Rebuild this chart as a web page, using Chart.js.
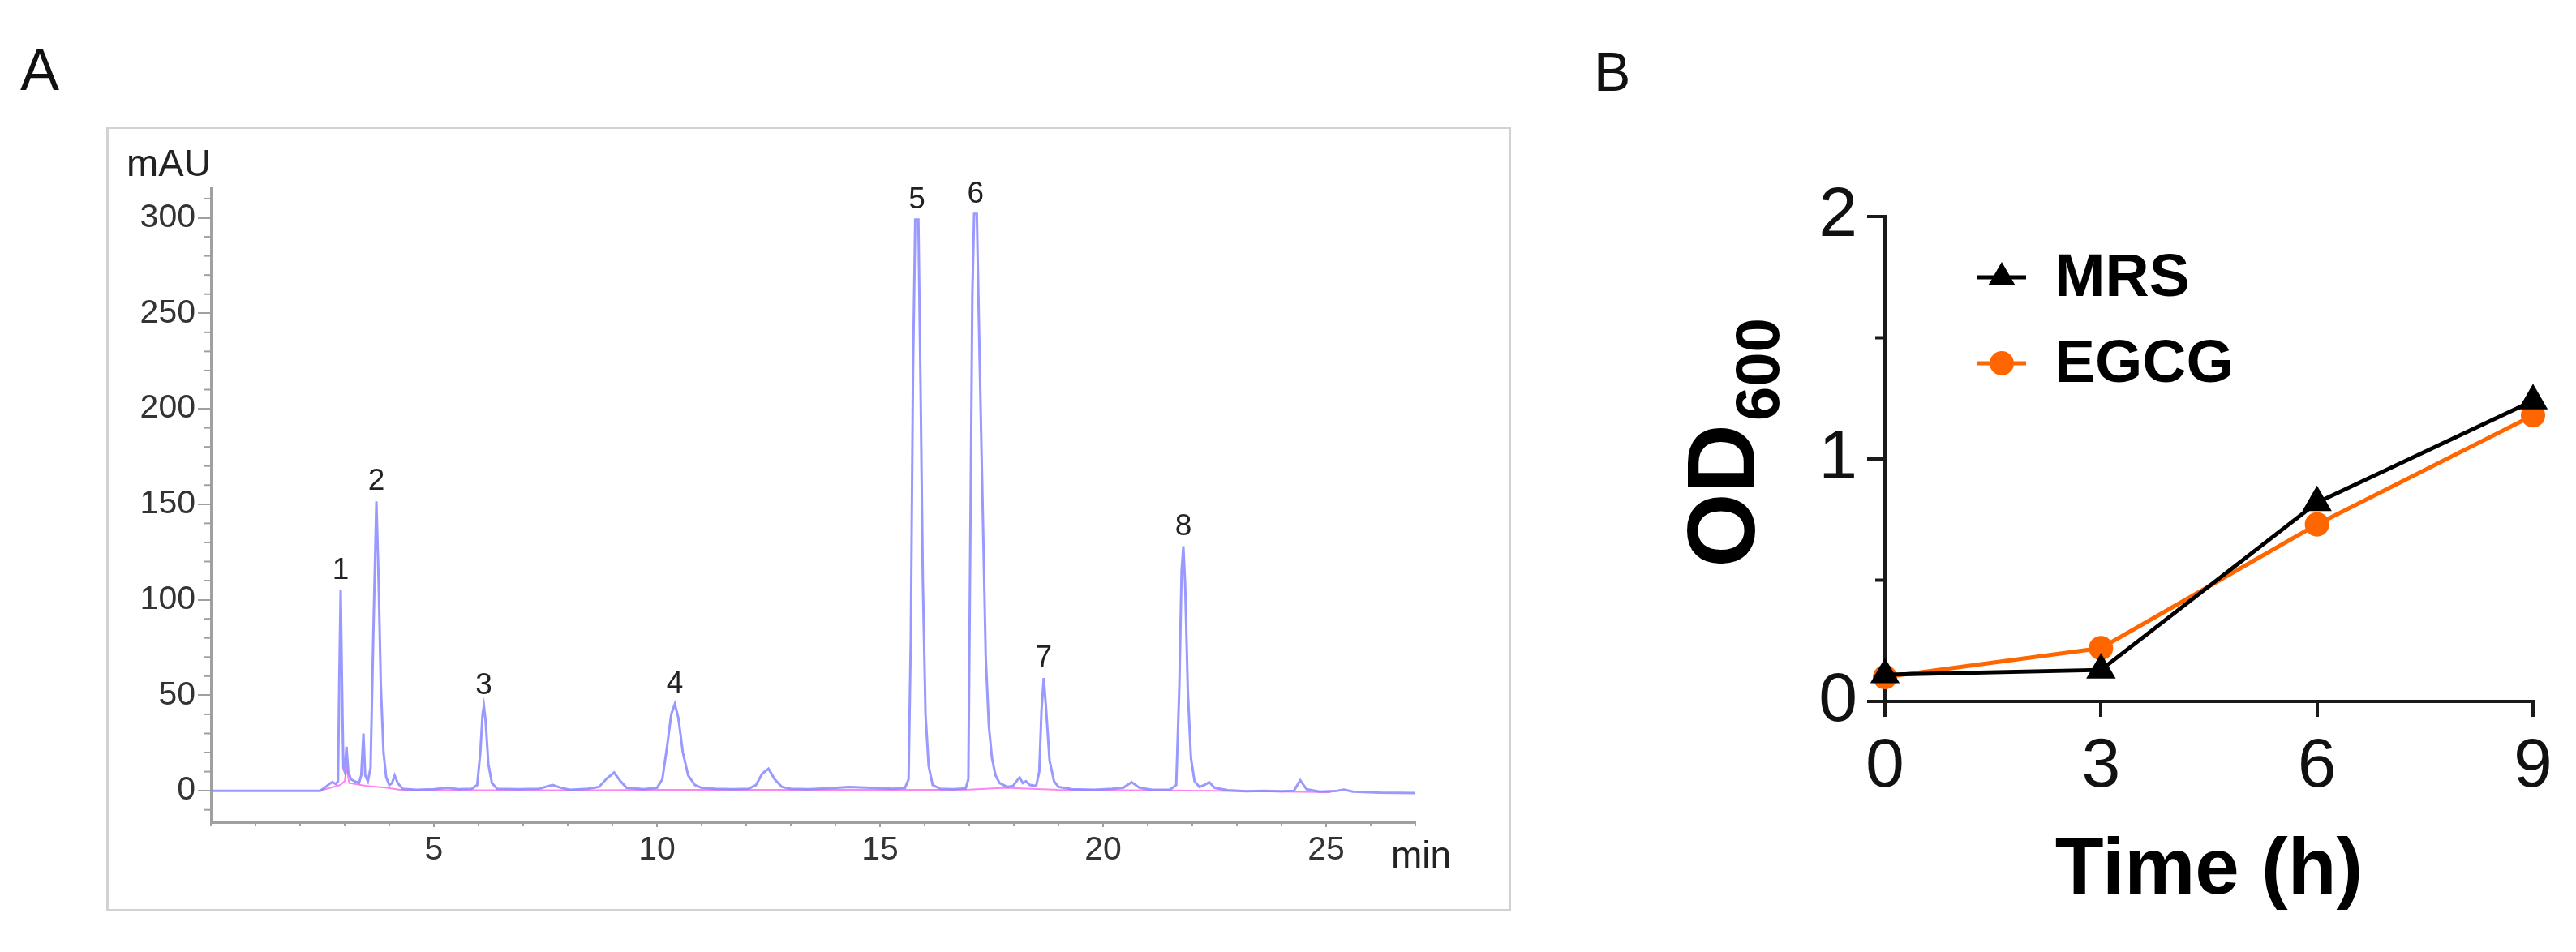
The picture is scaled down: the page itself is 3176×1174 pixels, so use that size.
<!DOCTYPE html>
<html>
<head>
<meta charset="utf-8">
<script src="https://cdn.jsdelivr.net/npm/chart.js@4.4.1/dist/chart.umd.min.js"></script>
<style>
    html, body { margin: 0; padding: 0; background: #fff; }
    body { width: 3176px; height: 1174px; position: relative; overflow: hidden; font-family: 'Liberation Sans', Arial, sans-serif; }
    .panel-label { position: absolute; line-height: 1; color: #111; }
    #boxA { position: absolute; left: 131px; top: 156px; width: 1732px; height: 968px; border: 3px solid #d2d2d2; box-sizing: border-box; }
    #wrapA { position: absolute; left: 132px; top: 157px; width: 1730px; height: 966px; }
    #wrapB { position: absolute; left: 1960px; top: 200px; width: 1216px; height: 974px; }
</style>
</head>
<body>
<div class="panel-label" style="left:25px; top:50px; font-size:72px;">A</div>
<div class="panel-label" style="left:1965px; top:54px; font-size:68px;">B</div>
<div id="boxA"></div>
<div id="wrapA"><canvas id="chromatogram"></canvas></div>
<div id="wrapB"><canvas id="growth"></canvas></div>

<script>
const FONT = "'Liberation Sans', Arial, sans-serif";
Chart.defaults.font.family = FONT;

// ---- A: HPLC chromatogram ----
const traceTime = [0, 2.45, 2.55, 2.65, 2.72, 2.8, 2.85, 2.88, 2.91, 2.94,
    2.97, 3.0, 3.04, 3.08, 3.14, 3.22, 3.32, 3.37, 3.42, 3.46,
    3.52, 3.58, 3.64, 3.71, 3.76, 3.81, 3.87, 3.93, 4.0, 4.06,
    4.12, 4.19, 4.3, 4.6, 5.0, 5.3, 5.55, 5.85, 5.97, 6.04,
    6.09, 6.12, 6.16, 6.22, 6.3, 6.42, 6.9, 7.35, 7.5, 7.66,
    7.85, 8.05, 8.45, 8.7, 8.88, 9.04, 9.18, 9.32, 9.7, 10.0,
    10.12, 10.22, 10.32, 10.4, 10.48, 10.58, 10.7, 10.85, 11.0, 11.3,
    11.7, 12.05, 12.22, 12.36, 12.5, 12.64, 12.8, 13.0, 13.4, 13.9,
    14.3, 14.8, 15.3, 15.56, 15.64, 15.69, 15.74, 15.79, 15.86, 15.91,
    15.96, 16.02, 16.09, 16.18, 16.35, 16.65, 16.92, 16.98, 17.02, 17.07,
    17.11, 17.17, 17.23, 17.3, 17.37, 17.44, 17.51, 17.59, 17.68, 17.85,
    17.98, 18.06, 18.13, 18.2, 18.27, 18.36, 18.5, 18.57, 18.62, 18.67,
    18.72, 18.8, 18.9, 19.0, 19.3, 19.8, 20.2, 20.45, 20.64, 20.82,
    21.1, 21.5, 21.64, 21.71, 21.76, 21.8, 21.84, 21.9, 21.97, 22.05,
    22.16, 22.27, 22.38, 22.5, 22.8, 23.2, 23.6, 24.0, 24.28, 24.42,
    24.56, 24.85, 25.2, 25.4, 25.6, 26.2, 27.0];
const traceMAU = [0, 0, 1.5, 3.5, 4.5, 3.5, 5, 60, 105, 55,
    12, 10, 23, 10, 6, 5, 4, 8, 30, 8,
    5, 12, 80, 151.5, 110, 55, 20, 7, 3, 4,
    8, 4, 1, 0.5, 0.8, 1.5, 0.8, 1, 3, 20,
    40, 44.5, 36, 14, 4, 1, 0.8, 1, 2, 3,
    1.5, 0.5, 1, 2, 6.5, 9.5, 5, 1.5, 0.8, 1.5,
    6, 22, 40, 45.5, 38, 20, 8, 3, 1.5, 1,
    0.8, 1, 3, 9, 11.5, 6, 2, 1, 0.8, 1.3,
    2, 1.5, 1, 1.5, 6, 80, 220, 299, 299, 210,
    110, 40, 13, 3, 1, 0.8, 1.2, 6, 120, 260,
    302, 302, 230, 150, 70, 34, 17, 8, 4, 2,
    2.5, 5, 7, 4, 5, 3, 2.5, 10, 42, 59,
    44, 16, 5, 2, 0.8, 0.5, 1, 1.5, 4.5, 1.5,
    0.5, 0.5, 3, 55, 115, 128, 108, 52, 17, 5,
    2, 3, 4.5, 1.5, 0.3, -0.3, 0, -0.3, 0, 5.5,
    0.8, -0.5, -0.2, 0.6, -0.5, -1, -1.2];

// integration baseline (pink)
const baseTime = [2.45, 2.9, 3.0, 3.04, 3.1, 3.5, 3.95, 4.3, 8.5, 10.0, 13.2, 16.4, 17.0, 17.8, 19.0, 22.6, 25.1];
const baseMAU = [0, 3, 5, 12, 4, 2.5, 1.5, 0.3, 0.3, 0.5, 0.5, 0.5, 0.6, 1.5, 0.5, 0, -0.8];

const peakLabels = ['1', '2', '3', '4', '5', '6', '7', '8'];
const peakTimes = [2.91, 3.71, 6.12, 10.4, 15.83, 17.14, 18.67, 21.8];
const peakHeights = [105, 151.5, 44.5, 45.5, 299, 302, 59, 128];

const xTicksA = [5, 10, 15, 20, 25];
const yTicksA = [0, 50, 100, 150, 200, 250, 300];

// ---- B: growth curve ----
const hours = [0, 3, 6, 9];
const mrsOD = [0.11, 0.13, 0.82, 1.24];
const egcgOD = [0.10, 0.22, 0.73, 1.18];
const yTicksB = [0, 1, 2];

const toXY = (xs, ys) => xs.map((x, i) => ({x: x, y: ys[i]}));

// small ticks between the labelled ones
const minorTicks = {
    id: 'minorTicks',
    afterDraw(chart, args, opts) {
        const ctx = chart.ctx;
        (opts.axes || []).forEach(a => {
            const scale = chart.scales[a.id];
            const majors = scale.ticks.map(t => t.value);
            ctx.save();
            ctx.strokeStyle = a.color;
            ctx.lineWidth = a.width;
            const n0 = Math.ceil(scale.min / a.step);
            const n1 = Math.floor(scale.max / a.step);
            for (let n = n0; n <= n1; n++) {
                const v = n * a.step;
                if (majors.some(m => Math.abs(m - v) < 1e-6)) continue;
                const p = scale.getPixelForValue(v);
                ctx.beginPath();
                if (scale.isHorizontal()) {
                    ctx.moveTo(p, scale.top);
                    ctx.lineTo(p, scale.top + a.length);
                } else {
                    ctx.moveTo(scale.right, p);
                    ctx.lineTo(scale.right - a.length, p);
                }
                ctx.stroke();
            }
            ctx.restore();
        });
    }
};

const chromText = {
    id: 'chromText',
    afterDatasetsDraw(chart) {
        const {ctx, chartArea, scales: {x, y}} = chart;
        ctx.save();
        ctx.fillStyle = '#222';
        ctx.font = '37px ' + FONT;
        ctx.textAlign = 'center';
        ctx.textBaseline = 'alphabetic';
        peakLabels.forEach((lab, i) => {
            ctx.fillText(lab, x.getPixelForValue(peakTimes[i]), y.getPixelForValue(peakHeights[i]) - 14);
        });
        ctx.textAlign = 'left';
        ctx.font = '47px ' + FONT;
        ctx.fillText('mAU', chartArea.left - 104, chartArea.top - 15);
        ctx.font = '46px ' + FONT;
        ctx.fillText('min', chartArea.right - 30, chartArea.bottom + 56);
        ctx.restore();
    }
};

const growthText = {
    id: 'growthText',
    afterDraw(chart) {
        const {ctx, chartArea} = chart;
        // legend with line through marker
        const mx = chartArea.left + 144;
        chart.data.datasets.forEach((ds, i) => {
            const my = chartArea.top + 75 + i * 106;
            ctx.save();
            ctx.strokeStyle = ds.borderColor;
            ctx.lineWidth = 5;
            ctx.beginPath();
            ctx.moveTo(mx - 30, my);
            ctx.lineTo(mx + 30, my);
            ctx.stroke();
            ctx.fillStyle = ds.pointBackgroundColor;
            Chart.helpers.drawPoint(ctx, {pointStyle: ds.pointStyle, radius: ds.pointStyle === 'triangle' ? 19 : 15, rotation: 0, borderWidth: 0}, mx, my);
            ctx.fillStyle = '#000';
            ctx.font = 'bold 75px ' + FONT;
            ctx.textAlign = 'left';
            ctx.textBaseline = 'middle';
            ctx.fillText(ds.label, mx + 65, my + 2);
            ctx.restore();
        });
        // y title OD600 with subscript
        ctx.save();
        ctx.translate(chartArea.left - 161, chartArea.bottom - 165);
        ctx.rotate(-Math.PI / 2);
        ctx.fillStyle = '#000';
        ctx.textAlign = 'left';
        ctx.textBaseline = 'alphabetic';
        ctx.font = 'bold 118px ' + FONT;
        ctx.fillText('OD', 0, 0);
        const w = ctx.measureText('OD').width;
        ctx.font = 'bold 76px ' + FONT;
        ctx.fillText('600', w + 4, 30);
        ctx.restore();
    }
};

// -------------------------------------------------------------------
const chartA = new Chart(document.getElementById('chromatogram').getContext('2d'), {
    type: 'line',
    data: {
        datasets: [
            {
                label: 'trace',
                data: toXY(traceTime, traceMAU),
                borderColor: 'rgba(135, 135, 255, 0.85)',
                borderWidth: 3,
                pointRadius: 0,
                tension: 0,
            },
            {
                label: 'baseline',
                data: toXY(baseTime, baseMAU),
                borderColor: 'rgba(255, 110, 235, 0.85)',
                borderWidth: 2,
                pointRadius: 0,
                tension: 0,
            }
        ]
    },
    options: {
        responsive: true,
        maintainAspectRatio: false,
        animation: false,
        events: [],
        layout: {padding: {top: 75, right: 117, bottom: 0, left: 0}},
        plugins: {
            legend: {display: false},
            tooltip: {enabled: false},
            minorTicks: {
                axes: [
                    {id: 'y', step: 10, length: 9, color: '#a0a0a0', width: 2},
                    {id: 'x', step: 1, length: 5, color: '#a0a0a0', width: 2}
                ]
            }
        },
        scales: {
            x: {
                type: 'linear',
                min: 0,
                max: 27,
                afterBuildTicks: s => { s.ticks = xTicksA.map(v => ({value: v})); },
                afterFit: s => { s.height = 109; },
                border: {display: true, color: '#a0a0a0', width: 3},
                grid: {drawOnChartArea: false, drawTicks: true, tickLength: 6, color: '#a0a0a0', lineWidth: 2},
                ticks: {font: {size: 41}, color: '#333', padding: 4, maxRotation: 0}
            },
            y: {
                type: 'linear',
                min: -16.5,
                max: 315.5,
                afterBuildTicks: s => { s.ticks = yTicksA.map(v => ({value: v})); },
                afterFit: s => { s.width = 128; },
                border: {display: true, color: '#a0a0a0', width: 3},
                grid: {drawOnChartArea: false, drawTicks: true, tickLength: 16, color: '#a0a0a0', lineWidth: 2},
                ticks: {font: {size: 41}, color: '#333', padding: 3}
            }
        }
    },
    plugins: [minorTicks, chromText]
});

// -------------------------------------------------------------------
const chartB = new Chart(document.getElementById('growth').getContext('2d'), {
    type: 'line',
    data: {
        datasets: [
            {
                label: 'MRS',
                data: toXY(hours, mrsOD),
                borderColor: '#000000',
                backgroundColor: '#000000',
                pointBackgroundColor: '#000000',
                pointBorderWidth: 0,
                pointStyle: 'triangle',
                pointRadius: 21,
                borderWidth: 5,
                tension: 0,
                clip: false,
            },
            {
                label: 'EGCG',
                data: toXY(hours, egcgOD),
                borderColor: '#FF6600',
                backgroundColor: '#FF6600',
                pointBackgroundColor: '#FF6600',
                pointBorderWidth: 0,
                pointStyle: 'circle',
                pointRadius: 15,
                borderWidth: 5,
                tension: 0,
                clip: false,
            }
        ]
    },
    options: {
        responsive: true,
        maintainAspectRatio: false,
        animation: false,
        events: [],
        layout: {padding: {top: 67, right: 53, bottom: 0, left: 0}},
        plugins: {
            legend: {display: false},
            tooltip: {enabled: false},
            minorTicks: {
                axes: [
                    {id: 'y', step: 0.5, length: 12, color: '#1a1a1a', width: 4}
                ]
            }
        },
        scales: {
            x: {
                type: 'linear',
                min: 0,
                max: 9,
                afterBuildTicks: s => { s.ticks = hours.map(v => ({value: v})); },
                afterFit: s => { s.height = 309; },
                border: {display: true, color: '#1a1a1a', width: 4},
                grid: {drawOnChartArea: false, drawTicks: true, tickLength: 19, color: '#1a1a1a', lineWidth: 4},
                ticks: {font: {size: 86}, color: '#111', padding: 11, maxRotation: 0},
                title: {
                    display: true,
                    text: 'Time (h)',
                    color: '#000',
                    font: {size: 98, weight: 'bold'},
                    padding: {top: 0, bottom: 40}
                }
            },
            y: {
                type: 'linear',
                min: 0,
                max: 2,
                afterBuildTicks: s => { s.ticks = yTicksB.map(v => ({value: v})); },
                afterFit: s => { s.width = 364; },
                border: {display: true, color: '#1a1a1a', width: 4},
                grid: {drawOnChartArea: false, drawTicks: true, tickLength: 22, color: '#1a1a1a', lineWidth: 4},
                ticks: {font: {size: 86}, color: '#111', padding: 12}
            }
        }
    },
    plugins: [minorTicks, growthText]
});
</script>
</body>
</html>
